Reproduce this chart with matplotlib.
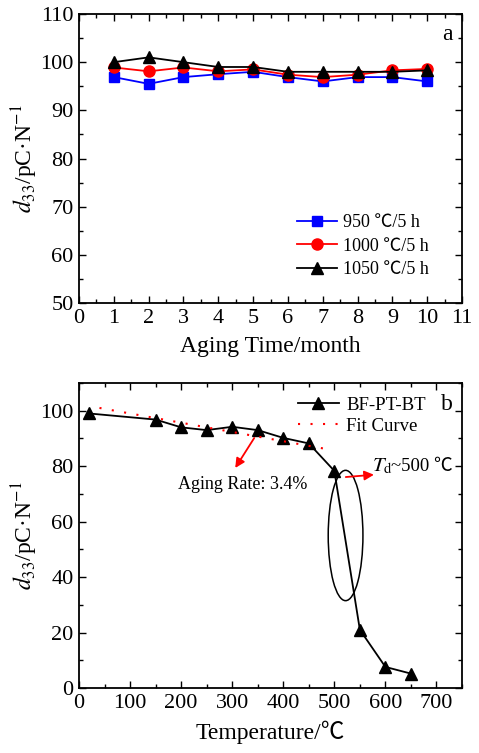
import matplotlib.pyplot as plt
from matplotlib.patches import Ellipse

plt.rcParams['font.family'] = ['Liberation Serif', 'Noto Sans CJK SC']
plt.rcParams['mathtext.fontset'] = 'stix'

# panel a: aging time
months = [1, 2, 3, 4, 5, 6, 7, 8, 9, 10]
d33_950 = [96.9, 95.5, 96.9, 97.5, 98.0, 96.9, 96.0, 96.9, 96.9, 96.0]
d33_1000 = [98.9, 98.1, 98.9, 98.1, 98.5, 97.4, 96.9, 97.4, 98.3, 98.6]
d33_1050 = [100.0, 101.0, 100.0, 99.0, 99.0, 98.0, 98.0, 98.0, 98.0, 98.3]

# panel b: temperature
temps = [20, 150, 200, 250, 300, 350, 400, 450, 500, 550, 600, 650]
d33_temp = [99, 96.8, 94, 93, 94.2, 93, 90.2, 88.2, 78.3, 21, 7.6, 5.2]
fit_x = [40, 490]
fit_y = [101, 86]

fig = plt.figure(figsize=(4.79, 7.53), dpi=100)
ax1 = fig.add_axes([0.165, 0.5976, 0.7995, 0.3838])
ax2 = fig.add_axes([0.165, 0.0863, 0.7995, 0.4051])

ax1.plot(months, d33_950, color='blue', marker='s', markersize=7, lw=1.3, label='950 ℃/5 h')
ax1.plot(months, d33_1000, color='red', marker='o', markersize=8, lw=1.3, label='1000 ℃/5 h')
ax1.plot(months, d33_1050, color='black', marker='^', markersize=8, lw=1.3, label='1050 ℃/5 h')
ax1.set_xlim(0, 11)
ax1.set_ylim(50, 110)
ax1.set_xticks(range(0, 12))
ax1.set_xticks([i + 0.5 for i in range(11)], minor=True)
ax1.set_yticks(range(50, 111, 10))
ax1.set_yticks(range(55, 110, 10), minor=True)
ax1.set_xlabel('Aging Time/month', fontsize=17, labelpad=6)
ax1.set_ylabel('$d_{33}$/pC·N$^{-1}$', fontsize=17, labelpad=0)
ax1.text(0.975, 0.93, 'a', transform=ax1.transAxes, fontsize=17, ha='right', va='center')
ax1.legend(loc='lower right', bbox_to_anchor=(0.955, 0.03), frameon=False, fontsize=13,
           handlelength=2.2, handletextpad=0.3, labelspacing=0.35)

ax2.plot(temps, d33_temp, color='black', marker='^', markersize=8, lw=1.3, label='BF-PT-BT')
ax2.plot(fit_x, fit_y, color='red', linestyle=(0, (1, 5)), lw=1.5, label='Fit Curve')
ax2.set_xlim(0, 750)
ax2.set_ylim(0, 110)
ax2.set_xticks(range(0, 701, 100))
ax2.set_xticks(range(50, 751, 100), minor=True)
ax2.set_yticks(range(0, 101, 20))
ax2.set_yticks(range(10, 111, 20), minor=True)
ax2.set_xlabel('Temperature/℃', fontsize=17, labelpad=6)
ax2.set_ylabel('$d_{33}$/pC·N$^{-1}$', fontsize=17, labelpad=0)
ax2.text(0.975, 0.93, 'b', transform=ax2.transAxes, fontsize=17, ha='right', va='center')
ax2.legend(loc='upper right', bbox_to_anchor=(0.95, 1.01), frameon=False, fontsize=13.5,
           handlelength=2.2, handletextpad=0.4, labelspacing=0.2)

ax2.annotate('', xy=(583, 77), xytext=(517, 76),
             arrowprops=dict(arrowstyle='-|>', color='red', lw=1.3, mutation_scale=14))
ax2.annotate('', xy=(303, 78.5), xytext=(346, 91),
             arrowprops=dict(arrowstyle='-|>', color='red', lw=1.3, mutation_scale=14))
ax2.text(321, 73.5, 'Aging Rate: 3.4%', fontsize=13, ha='center', va='center')
ax2.text(573, 80, '$T_{\\mathrm{d}}$', fontsize=15, ha='left', va='center')
ax2.text(610, 80, '~500 ℃', fontsize=13.5, ha='left', va='center')
ax2.add_patch(Ellipse((522, 55), 68, 47, fill=False, edgecolor='black', lw=1.1))

for ax in (ax1, ax2):
    ax.tick_params(which='both', direction='in', top=True, right=True, labelsize=16, pad=4)
    ax.tick_params(which='major', length=5, width=1)
    ax.tick_params(which='minor', length=3, width=1)
    for s in ax.spines.values():
        s.set_linewidth(1.3)

fig.savefig('out.png', dpi=100)
